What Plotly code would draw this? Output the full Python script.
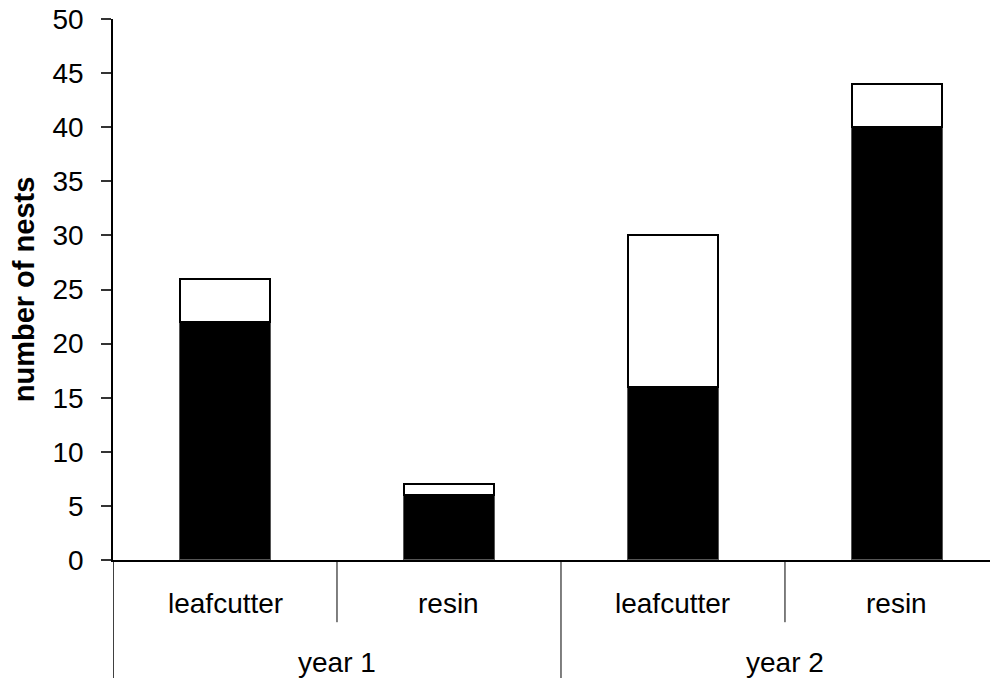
import plotly.graph_objects as go

years = ["year 1", "year 2"]
types = ["leafcutter", "resin", "leafcutter", "resin"]
categories = ["year 1 leafcutter", "year 1 resin", "year 2 leafcutter", "year 2 resin"]
black_vals = [22, 6, 16, 40]
white_vals = [4, 1, 14, 4]
y_ticks = [0, 5, 10, 15, 20, 25, 30, 35, 40, 45, 50]

FONT = "Liberation Sans, Arial, sans-serif"

fig = go.Figure()
fig.add_trace(go.Bar(x=categories, y=black_vals, width=0.406,
                     marker=dict(color="black", line=dict(color="#555", width=1.2))))
fig.add_trace(go.Bar(x=categories, y=white_vals, width=0.406,
                     marker=dict(color="white", line=dict(color="black", width=2))))

# inner category labels
for i, t in enumerate(types):
    fig.add_annotation(x=i, y=-0.0795, xref="x", yref="paper", text=t, showarrow=False,
                       yanchor="middle", font=dict(family=FONT, size=28, color="black"))
# outer group labels
for j, yr in enumerate(years):
    fig.add_annotation(x=2 * j + 0.5, y=-0.190, xref="x", yref="paper", text=yr, showarrow=False,
                       yanchor="middle", font=dict(family=FONT, size=28, color="black"))

# dividers
for xpos in [0.5, 2.5]:
    fig.add_shape(type="line", xref="x", yref="paper", x0=xpos, x1=xpos, y0=0, y1=-0.115,
                  line=dict(color="black", width=1))
for xpos in [-0.5, 1.5]:
    fig.add_shape(type="line", xref="x", yref="paper", x0=xpos, x1=xpos, y0=0, y1=-0.23,
                  line=dict(color="black", width=1.5 if xpos < 0 else 1))

fig.update_layout(
    barmode="stack", showlegend=False,
    width=990, height=670,
    margin=dict(l=105, r=0, t=11, b=118, autoexpand=False),
    plot_bgcolor="white", paper_bgcolor="white",
    font=dict(family=FONT, size=28, color="black"),
    xaxis=dict(type="category", range=[-0.5, 3.451], showline=True, linecolor="black", linewidth=1.5,
               showticklabels=False, ticks="", showgrid=False, zeroline=False, automargin=False),
    yaxis=dict(range=[0, 50], tickvals=y_ticks, showgrid=False, showline=True, linecolor="black", linewidth=1.5,
               ticks="outside", ticklen=10, tickwidth=1.5, tickcolor="#333", zeroline=False,
               ticklabelstandoff=12, automargin=False, ticklabeloverflow="allow",
               tickfont=dict(family=FONT, size=28),
               title=dict(text="<b>number of nests</b>", font=dict(family=FONT, size=29), standoff=12)),
)
fig.write_html("out.html")
